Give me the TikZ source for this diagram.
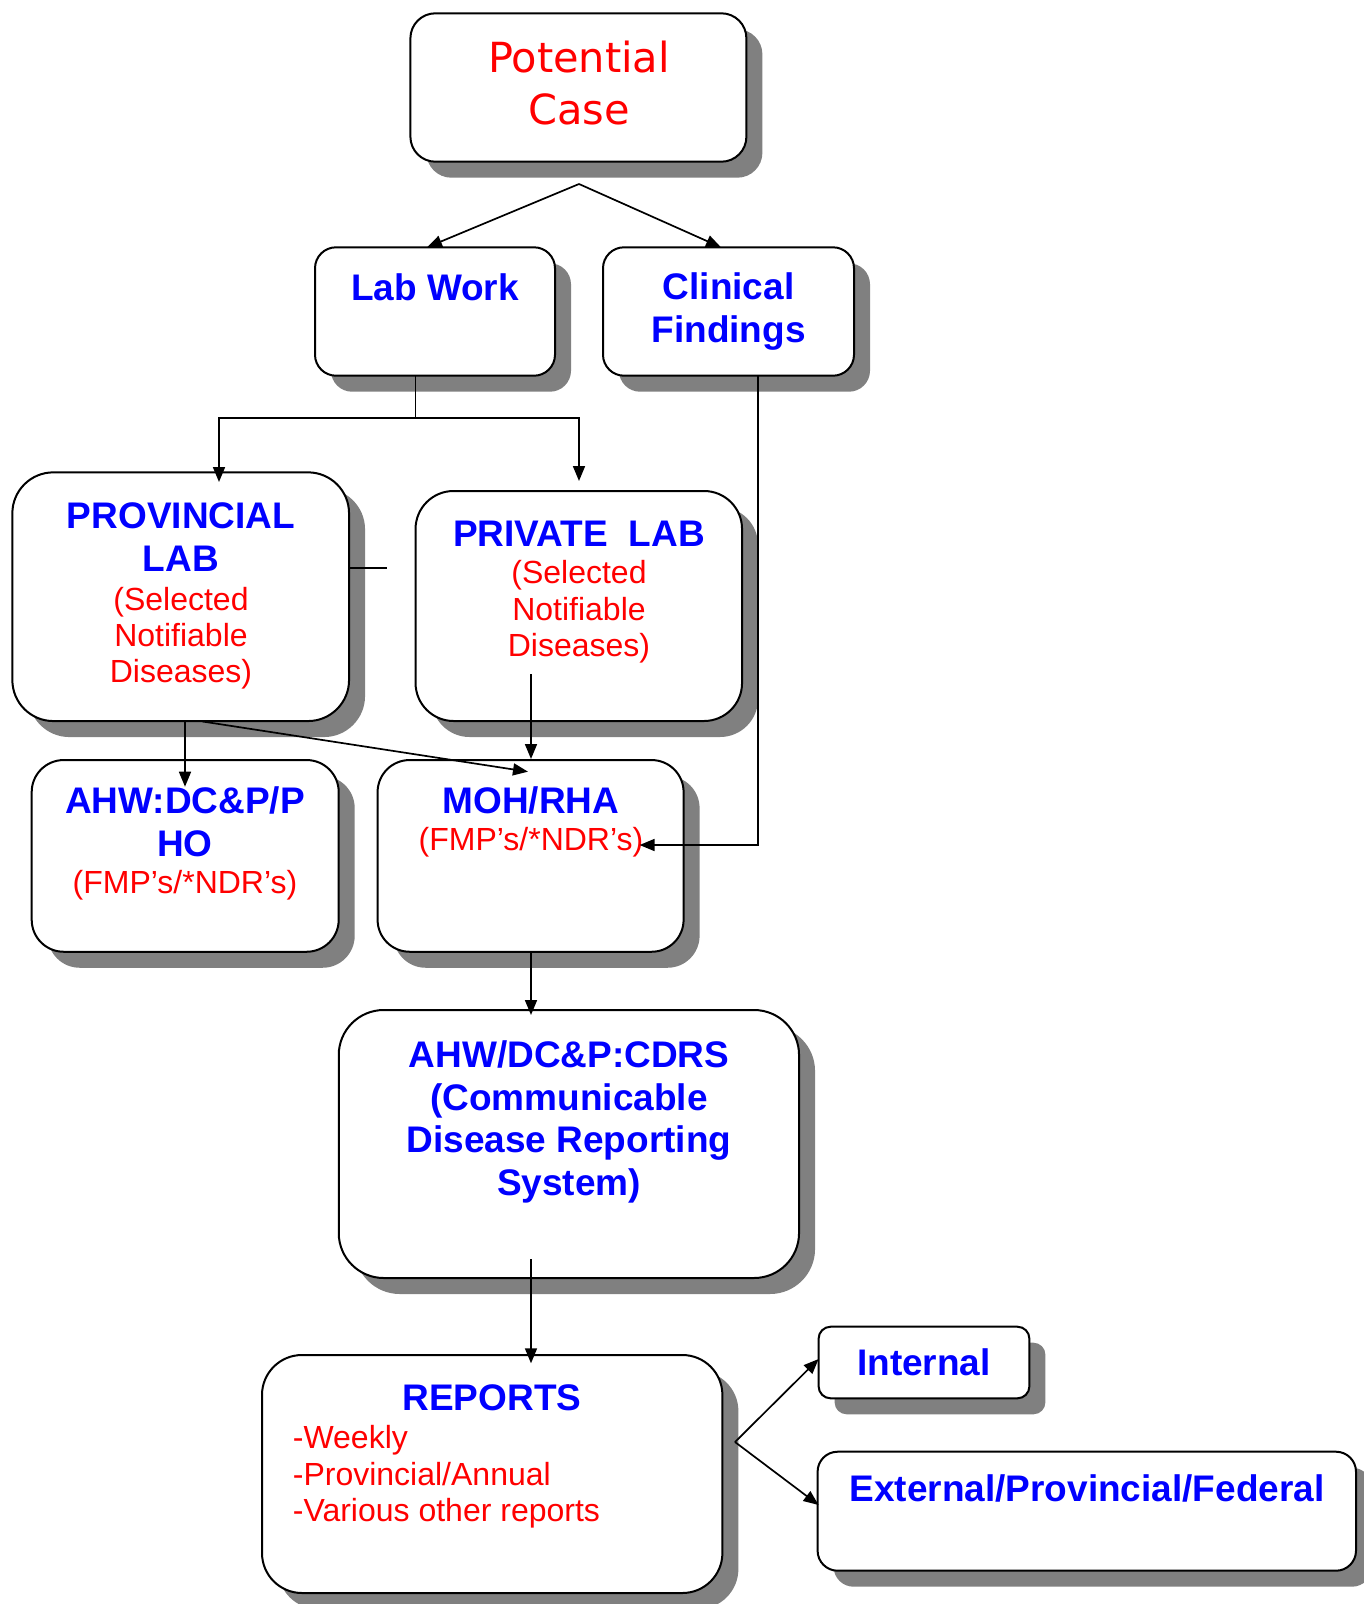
\documentclass[tikz,border=0pt]{standalone}
\usepackage{fontspec}
\setmainfont{Liberation Sans}
\newfontfamily\dvs{DejaVu Sans}
\usetikzlibrary{shadows,arrows.meta}
\definecolor{bl}{RGB}{0,0,255}
\definecolor{rd}{RGB}{255,0,0}
\definecolor{sh}{RGB}{128,128,128}
\begin{document}
\begin{tikzpicture}[x=1pt,y=-1pt,
  box/.style={draw=black,line width=2pt,fill=white,inner sep=0pt,outer sep=0pt,
    drop shadow={shadow xshift=16pt,shadow yshift=-16pt,fill=sh,opacity=1}},
  bt/.style={anchor=base,inner sep=0pt,text=bl,font=\fontsize{37}{43}\selectfont\bfseries},
  rt/.style={anchor=base,inner sep=0pt,text=rd,font=\fontsize{32}{37}\selectfont},
  pt/.style={anchor=base,inner sep=0pt,text=rd,font=\dvs\fontsize{41.5}{51}\selectfont},
  con/.style={line width=1.7pt,draw=black},
  arr/.style={con,-{Triangle[length=15pt,width=12pt]}}]
\useasboundingbox (0,0) rectangle (1364,1604);

% boxes
\node[box,rounded corners=25pt,minimum width=336pt,minimum height=148.4pt] (pc) at (578.4,87.5) {};
\node[box,rounded corners=21pt,minimum width=240pt,minimum height=128.4pt] (lw) at (435,311.5) {};
\node[box,rounded corners=21pt,minimum width=251pt,minimum height=128.4pt] (cf) at (728.5,311.5) {};
\node[box,rounded corners=41pt,minimum width=336.7pt,minimum height=248.7pt] (pl) at (180.7,596.7) {};
\node[box,rounded corners=38pt,minimum width=326.5pt,minimum height=230pt] (pv) at (578.8,606) {};
\node[box,rounded corners=32pt,minimum width=307pt,minimum height=191.7pt] (ah) at (185.2,855.9) {};
\node[box,rounded corners=32pt,minimum width=306pt,minimum height=191.7pt] (mo) at (530.6,855.9) {};
\node[box,rounded corners=45pt,minimum width=460.3pt,minimum height=268pt] (cd) at (568.9,1144) {};
\node[box,rounded corners=40pt,minimum width=460.4pt,minimum height=238pt] (rp) at (492.2,1474) {};
\node[box,rounded corners=12pt,minimum width=210.8pt,minimum height=71.6pt] (in) at (924,1362.5) {};
\node[box,rounded corners=20pt,minimum width=538.4pt,minimum height=119pt] (ex) at (1086.8,1511.2) {};

% texts
\node[pt] (pc1) at (579,72.5) {Potential};
\node[pt] (pc2) at (579,124) {Case};
\node[bt] (lw1) at (435,300) {Lab Work};
\node[bt] (cf1) at (728.6,299.5) {Clinical};
\node[bt] (cf2) at (728.6,342) {Findings};
\node[bt] (pl1) at (181,528.3) {PROVINCIAL};
\node[bt] (pl2) at (181,571) {LAB};
\node[rt] (pl3) at (181,610) {(Selected};
\node[rt] (pl4) at (181,646.7) {Notifiable};
\node[rt] (pl5) at (181,682.7) {Diseases)};
\node[bt] (pv1) at (579,546.7) {PRIVATE\ \ LAB};
\node[rt] (pv2) at (579,583.3) {(Selected};
\node[rt] (pv3) at (579,620) {Notifiable};
\node[rt] (pv4) at (579,656.7) {Diseases)};
\node[bt] (ah1) at (185,813.3) {AHW:DC\&P/P};
\node[bt] (ah2) at (185,856) {HO};
\node[rt] (ah3) at (185,893.5) {(FMP’s/*NDR’s)};
\node[bt] (mo1) at (531,813.3) {MOH/RHA};
\node[rt] (mo2) at (531,850) {(FMP’s/*NDR’s)};
\node[bt] (cd1) at (569,1067.3) {AHW/DC\&P:CDRS};
\node[bt] (cd2) at (569,1110) {(Communicable};
\node[bt] (cd3) at (569,1152.3) {Disease Reporting};
\node[bt] (cd4) at (569,1195) {System)};
\node[bt] (rp1) at (492,1410) {REPORTS};
\node[rt,anchor=base west] (rp2) at (292.7,1448.3) {-Weekly};
\node[rt,anchor=base west] (rp3) at (292.7,1485) {-Provincial/Annual};
\node[rt,anchor=base west] (rp4) at (292.7,1521.7) {-Various other reports};
\node[bt] (in1) at (924,1375) {Internal};
\node[bt] (ex1) at (1087,1501.7) {External/Provincial/Federal};

% connector points
\coordinate (f1) at (579,184);
\coordinate (lwt) at (427,247.3);
\coordinate (cft) at (721,247.3);
\coordinate (lwb) at (415.5,375.7);
\coordinate (j1) at (415.5,418.3);
\coordinate (j2) at (219,418.3);
\coordinate (j3) at (579,418.3);
\coordinate (plt) at (219,482);
\coordinate (pvt) at (579,481);
\coordinate (plr) at (349,567.7);
\coordinate (dg) at (387,567.7);
\coordinate (plb) at (185,721);
\coordinate (aht) at (185,786.7);
\coordinate (pld) at (202.6,721.5);
\coordinate (mot) at (528,771.7);
\coordinate (pvi) at (531,674);
\coordinate (mot2) at (531,759);
\coordinate (cfb) at (758.3,375.7);
\coordinate (moi) at (639.6,845);
\coordinate (mob) at (531,951.7);
\coordinate (cdt) at (531,1015);
\coordinate (cdi) at (531,1259);
\coordinate (rpt) at (531,1363.3);
\coordinate (f2) at (735,1442);
\coordinate (int) at (818.6,1359);
\coordinate (ext) at (818.6,1505);

% connectors
\draw[arr] (f1) -- (lwt);
\draw[arr] (f1) -- (cft);
\draw[con] (lwb) -- (j1);
\draw[arr] (j1) -- (j2) -- (plt);
\draw[arr] (j1) -- (j3) -- (pvt);
\draw[con] (plr) -- (dg);
\draw[arr] (plb) -- (aht);
\draw[arr] (pld) -- (mot);
\draw[arr] (pvi) -- (mot2);
\draw[arr] (cfb) |- (moi);
\draw[arr] (mob) -- (cdt);
\draw[arr] (cdi) -- (rpt);
\draw[arr] (f2) -- (int);
\draw[arr] (f2) -- (ext);
\end{tikzpicture}
\end{document}
